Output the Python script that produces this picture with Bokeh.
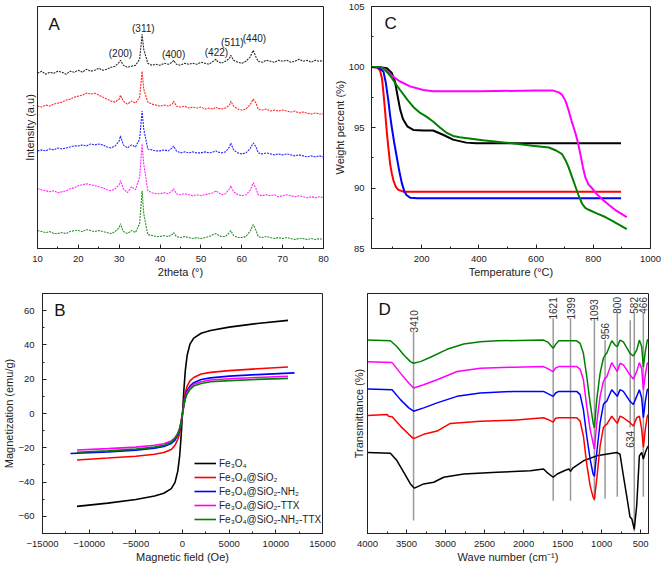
from bokeh.plotting import figure
from bokeh.layouts import column, row
from bokeh.models import (Range1d, SingleIntervalTicker, FixedTicker, Label,
                          Legend, LegendItem)
from bokeh.embed import file_html
from bokeh.resources import INLINE
from bokeh.core.properties import value

FONT = "Liberation Sans"
INK = "#222222"
COLORS = ["#000000", "#ff0000", "#0000ff", "#ff00ff", "#008000"]
SAMPLES = ["Fe\u2083O\u2084", "Fe\u2083O\u2084@SiO\u2082", "Fe\u2083O\u2084@SiO\u2082-NH\u2082",
           "Fe\u2083O\u2084@SiO\u2082-TTX", "Fe\u2083O\u2084@SiO\u2082-NH\u2082-TTX"]

# ---------------- Panel A: XRD (stacked, a.u.) ----------------
xrd_2theta = [10, 11, 12, 13, 14, 15, 16, 17, 18, 19, 20, 21, 22, 23, 24, 25, 26, 27, 28, 29,
              30, 30.3, 31, 32, 33, 34, 35, 35.6, 36, 37, 38, 39, 40, 41, 42, 43, 43.3,
              44, 45, 46, 47, 48, 49, 50, 51, 52, 53, 53.7, 54, 55, 56, 57, 57.3,
              58, 59, 60, 61, 62, 62.8, 63.5, 64, 65, 66, 67, 68, 69, 70, 71, 72, 73,
              74, 75, 76, 77, 78, 79, 80]
xrd_black = [176, 178, 175, 177, 176, 178, 177, 175, 178, 177, 179, 177, 180, 178, 179, 181, 179, 180, 182, 183,
             187, 189, 184, 182, 183, 184, 190, 215, 200, 186, 184, 185, 184, 186, 185, 187, 189,
             185, 184, 186, 185, 186, 185, 187, 186, 185, 188, 190, 188, 186, 188, 191, 194,
             189, 187, 186, 188, 192, 199, 192, 188, 187, 189, 188, 187, 189, 188, 189, 187, 188,
             190, 188, 189, 187, 189, 188, 189]
xrd_red = [143, 142, 144, 143, 145, 146, 147, 149, 150, 152, 153, 154, 156, 155, 156, 154, 152, 150, 148, 147,
           150, 154, 148, 145, 148, 146, 152, 178, 160, 147, 145, 144, 143, 144, 143, 145, 148,
           143, 142, 143, 141, 142, 141, 142, 140, 141, 140, 142, 141, 140, 141, 144, 148,
           143, 140, 139, 140, 144, 150, 146, 140, 139, 140, 138, 139, 138, 139, 138, 137, 138,
           136, 137, 136, 135, 136, 135, 135]
xrd_blue = [98, 99, 98, 100, 99, 101, 100, 101, 102, 103, 103, 104, 103, 105, 104, 105, 104, 102, 101, 103,
            108, 113, 104, 101, 104, 102, 110, 138, 120, 100, 99, 98, 98, 99, 98, 101, 103,
            98, 96, 97, 96, 97, 96, 96, 97, 96, 97, 98, 97, 96, 97, 102, 106,
            99, 96, 95, 96, 100, 106, 102, 96, 95, 96, 95, 94, 95, 94, 95, 94, 93,
            94, 93, 92, 93, 92, 93, 92]
xrd_magenta = [60, 59, 58, 57, 58, 56, 57, 58, 60, 61, 63, 64, 65, 64, 63, 62, 61, 59, 58, 60,
               64, 68, 60, 56, 62, 59, 72, 105, 85, 58, 56, 55, 55, 56, 55, 58, 60,
               55, 54, 55, 54, 53, 54, 53, 54, 55, 56, 58, 57, 54, 55, 60, 63,
               57, 54, 53, 54, 58, 66, 60, 54, 53, 54, 53, 54, 52, 53, 54, 53, 52,
               53, 52, 51, 52, 51, 52, 51]
xrd_green = [18, 17, 16, 17, 15, 15, 16, 15, 17, 18, 18, 17, 19, 18, 17, 18, 17, 16, 15, 17,
             21, 25, 17, 15, 18, 16, 25, 58, 35, 14, 13, 12, 12, 13, 12, 14, 16,
             12, 11, 12, 11, 10, 11, 10, 11, 12, 14, 15, 14, 12, 12, 16, 18,
             13, 11, 11, 12, 17, 24, 18, 12, 11, 12, 11, 10, 11, 10, 11, 10, 9,
             10, 10, 9, 10, 9, 10, 9]
xrd_series = [xrd_black, xrd_red, xrd_blue, xrd_magenta, xrd_green]
hkl_labels = ["(200)", "(311)", "(400)", "(422)", "(511)", "(440)"]
hkl_x = [30.3, 35.9, 43.3, 53.8, 57.7, 63.1]
hkl_y = [196, 221, 195, 197, 207, 211]

# ---------------- Panel C: TGA ----------------
tga_T = [
    [25, 50, 79, 96, 107, 117, 125, 135, 150, 171, 206, 240, 275, 310, 356, 391, 897],
    [25, 45, 55, 62, 67, 73, 79, 85, 90, 96, 102, 110, 119, 136, 897],
    [25, 50, 67, 75, 84, 90, 96, 104, 113, 122, 131, 140, 148, 160, 185, 897],
    [25, 55, 70, 84, 100, 125, 160, 206, 240, 400, 600, 660, 680, 691, 703, 714, 726, 738,
     746, 755, 764, 772, 783, 795, 812, 830, 855, 876, 917],
    [25, 55, 70, 90, 107, 125, 150, 171, 195, 217, 240, 264, 285, 310, 333, 414, 495, 587,
     645, 670, 691, 703, 714, 726, 738, 750, 761, 772, 784, 812, 842, 865, 888, 917],
]
tga_W = [
    [100, 100, 99.9, 99.5, 98.8, 97.5, 96.5, 95.7, 95.1, 94.8, 94.75, 94.75, 94.4, 94.0, 93.75, 93.7, 93.7],
    [100, 99.95, 99.7, 99.0, 97.8, 96.2, 94.5, 93.1, 92.0, 91.2, 90.6, 90.1, 89.85, 89.7, 89.7],
    [100, 99.95, 99.6, 98.7, 97.2, 96.0, 95.0, 93.8, 92.6, 91.4, 90.4, 89.7, 89.4, 89.2, 89.15, 89.15],
    [100, 100, 99.85, 99.6, 99.2, 98.8, 98.4, 98.1, 98.0, 98.0, 98.05, 98.05, 97.9, 97.7, 97.2, 96.4,
     95.4, 94.5, 93.8, 92.8, 91.7, 90.9, 90.3, 90.0, 89.5, 89.1, 88.6, 88.2, 87.6],
    [100, 100, 99.8, 99.3, 98.7, 98.1, 97.3, 96.7, 96.2, 95.9, 95.5, 95.0, 94.6, 94.3, 94.2, 93.95,
     93.75, 93.5, 93.35, 93.1, 92.8, 92.3, 91.7, 90.9, 90.1, 89.3, 88.7, 88.35, 88.2, 87.9, 87.6,
     87.3, 87.0, 86.6],
]

# ---------------- Panel B: VSM ----------------
vsm_H = [-11300, -8000, -5000, -3000, -2000, -1200, -800, -500, -300, -150, 0,
         150, 300, 500, 800, 1200, 2000, 3000, 5000, 8000, 11300]
vsm_H_blue = [-12000, -8000, -5000, -3000, -2000, -1200, -800, -500, -300, -150, 0,
              150, 300, 500, 800, 1200, 2000, 3000, 5000, 8000, 12000]
vsm_black = [-54.2, -52.3, -50.2, -48.1, -46.5, -43.8, -40.2, -33.5, -24.5, -13.5, 0,
             13.8, 25, 34, 40.5, 44, 46.8, 48.4, 50.4, 52.5, 54.3]
vsm_red = [-27.1, -26.0, -24.9, -23.8, -22.8, -21, -18.5, -15, -11.5, -6.5, 0,
           7, 12, 16, 19, 21, 23, 24, 25, 26.1, 27.1]
vsm_blue = [-23.3, -22.4, -21.4, -20.2, -19.2, -17.5, -15.5, -12.5, -9.5, -5.3, 0,
            5.5, 10, 13.5, 16, 18, 19.8, 20.8, 21.8, 22.7, 23.7]
vsm_magenta = [-21.3, -20.5, -19.6, -18.5, -17.6, -16, -14, -11.5, -8.5, -4.8, 0,
               5, 9, 12.5, 15, 17, 18.5, 19.5, 20.3, 21, 21.7]
vsm_green = [-22.6, -21.8, -20.8, -19.6, -18.6, -16.8, -14.5, -11.8, -8.8, -4.8, 0,
             4.5, 8.5, 11.5, 14, 16, 17.5, 18.5, 19.2, 19.9, 20.5]
vsm_x = [vsm_H, vsm_H, vsm_H_blue, vsm_H, vsm_H]
vsm_y = [vsm_black, vsm_red, vsm_blue, vsm_magenta, vsm_green]

# ---------------- Panel D: FTIR (stacked, a.u.) ----------------
ftir_wn = [
    [4000, 3706, 3621, 3535, 3450, 3399, 3280, 3152, 3024, 2768, 2342, 1915, 1745, 1702, 1621, 1570,
     1480, 1420, 1399, 1370, 1234, 1063, 807, 765, 722, 680, 637, 615, 582, 551, 517, 487, 466, 441, 415, 400],
    [4000, 3748, 3730, 3685, 3578, 3471, 3410, 3280, 3109, 2939, 2555, 2129, 1745, 1690, 1621, 1590,
     1550, 1320, 1276, 1234, 1191, 1148, 1110, 1093, 1063, 1020, 978, 956, 935, 871, 800, 765, 722,
     637, 594, 551, 517, 487, 466, 441, 415, 400],
    [4000, 3685, 3578, 3471, 3410, 3280, 3109, 2853, 2555, 2129, 1745, 1690, 1621, 1590, 1550, 1320,
     1276, 1234, 1191, 1148, 1110, 1093, 1063, 1020, 978, 956, 935, 871, 800, 765, 722, 637, 594,
     551, 517, 487, 466, 441, 415, 400],
    [4000, 3685, 3578, 3471, 3410, 3280, 3109, 2853, 2555, 2129, 1745, 1690, 1621, 1590, 1550, 1320,
     1276, 1234, 1191, 1148, 1093, 1063, 1020, 978, 956, 935, 871, 800, 765, 722, 637, 594, 551,
     517, 487, 466, 441, 415, 400],
    [4000, 3706, 3621, 3535, 3450, 3410, 3322, 3194, 2981, 2768, 2555, 2342, 1745, 1690, 1621, 1590,
     1550, 1320, 1276, 1234, 1191, 1148, 1110, 1093, 1063, 1020, 978, 956, 935, 871, 829, 800, 765,
     722, 637, 594, 551, 517, 487, 466, 441, 415, 400],
]
ftir_T = [
    [81.7, 81, 73.3, 61.7, 50, 45.7, 50, 51.7, 56.7, 60, 61.7, 63.3, 65, 61.7, 56.7, 60,
     63.3, 65, 62.7, 66, 73.3, 78.3, 81.7, 80, 58.3, 38.3, 16.7, 15, 4.3, 28.3, 78.3, 81.7, 75, 81.7, 86.7, 88.3],
    [119, 120, 118.3, 117.7, 108.3, 100, 95.7, 100, 103.3, 111, 113.3, 114.3, 116.7, 115, 112.3, 116.3,
     116.7, 116.7, 113.3, 98.3, 70, 48.3, 36.7, 34.3, 55, 88.3, 106.7, 109, 110, 118.3, 111, 118.3, 116.7,
     111.7, 108.3, 116.7, 118.3, 105, 86.7, 105, 118.3, 120],
    [145.7, 145, 135, 126.7, 123.3, 126.7, 131.7, 138.3, 141.7, 143.3, 143.3, 141, 138.3, 141.7, 143.3, 143.3,
     140, 125, 98.3, 75, 60, 57.7, 81.7, 111.7, 130, 132.3, 133.3, 145, 138.3, 145, 143.3, 133.3, 130,
     138.3, 145, 136.7, 116.7, 133.3, 145, 145.7],
    [173.3, 172.3, 161.7, 151.7, 146.7, 150, 155, 163.3, 166.7, 167.7, 168.3, 166.3, 163.3, 167, 168.3, 168.3,
     165.7, 155, 128.3, 105, 85, 111.7, 138.3, 153.3, 156.7, 157.7, 172.3, 163.3, 171.7, 170, 160, 155.7, 163.3,
     172.3, 166.7, 145, 160, 171.7, 172.3],
    [195, 194.3, 188.3, 180, 173.3, 171.7, 173.3, 177.7, 185.7, 191, 193.3, 194.3, 195, 193, 186.7, 190.7,
     194.3, 194.3, 191.7, 181.7, 158.3, 131.7, 111.7, 106.7, 135, 161.7, 176.7, 180, 181.7, 194.3, 190, 188.3, 195,
     193.3, 181.7, 179, 185, 195, 188.3, 167.7, 183.3, 195, 195.7],
]
band_labels = ["3410", "1621", "1399", "1093", "956", "800", "634", "582", "466"]
band_wn = [3410, 1621, 1399, 1093, 956, 800, 634, 582, 466]
band_top = [204, 217, 217, 217, 195, 222, 215, 222, 222]
band_bottom = [13, 33, 33, 33, 35, 37, 107, 2, 37]
band_label_y = [214, 227, 227, 225, 204, 230, 95, 230, 230]


def style(p, xlabel, ylabel, x_std=7, x_lab_std=1, y_std=7, y_lab_std=0):
    p.outline_line_color = INK
    p.outline_line_width = 1
    p.grid.grid_line_color = None
    p.background_fill_color = "white"
    p.border_fill_color = "white"
    for ax in (p.xaxis[0], p.yaxis[0]):
        ax.axis_line_color = INK
        ax.major_tick_in = 4
        ax.major_tick_out = 0
        ax.minor_tick_in = 2
        ax.minor_tick_out = 0
        ax.major_tick_line_color = INK
        ax.minor_tick_line_color = INK
        ax.major_label_text_font = FONT
        ax.major_label_text_font_size = "9.5px"
        ax.major_label_text_color = INK
        ax.axis_label_text_font = FONT
        ax.axis_label_text_font_size = "11px"
        ax.axis_label_text_font_style = "normal"
        ax.axis_label_text_color = INK
    p.xaxis[0].axis_label = xlabel
    p.yaxis[0].axis_label = ylabel
    p.xaxis[0].major_label_standoff = x_std
    p.xaxis[0].axis_label_standoff = x_lab_std
    p.yaxis[0].major_label_standoff = y_std
    p.yaxis[0].axis_label_standoff = y_lab_std


def letter(p, txt, x, y):
    p.add_layout(Label(x=x, y=y, text=txt, text_font=FONT, text_font_size="17px",
                       text_color="#111", text_baseline="middle", text_align="left"))


TOP_H = 286
BOT_H = 573 - TOP_H

# ---- A ----
pA = figure(width=330, height=TOP_H, x_range=Range1d(10, 80), y_range=Range1d(0, 243),
            output_backend="svg", toolbar_location=None,
            min_border_left=37, min_border_right=7, min_border_top=5,
            min_border_bottom=TOP_H - 248)
for ys, c in zip(xrd_series, COLORS):
    pA.line(xrd_2theta, ys, line_color=c, line_width=1.1, line_alpha=0.85, line_dash="2 1")
pA.text(x=hkl_x, y=hkl_y, text=hkl_labels, text_font=value(FONT), text_font_size="10px",
        text_color=INK, text_align="center", text_baseline="middle")
style(pA, "2theta (\u00b0)", "Intensity (a.u)", y_std=0, y_lab_std=2)
pA.xaxis[0].ticker = SingleIntervalTicker(interval=10, num_minor_ticks=2)
pA.yaxis[0].ticker = FixedTicker(ticks=[])
letter(pA, "A", 12.7, 225)

# ---- C ----
pC = figure(width=331, height=TOP_H, x_range=Range1d(25, 1000), y_range=Range1d(85, 105),
            output_backend="svg", toolbar_location=None,
            min_border_left=37, min_border_right=11, min_border_top=6,
            min_border_bottom=TOP_H - 248)
for xs, ys, c in zip(tga_T, tga_W, COLORS):
    pC.line(xs, ys, line_color=c, line_width=2)
style(pC, "Temperature (\u00b0C)", "Weight percent (%)")
pC.xaxis[0].ticker = SingleIntervalTicker(interval=200, num_minor_ticks=2)
pC.yaxis[0].ticker = SingleIntervalTicker(interval=5, num_minor_ticks=2)
letter(pC, "C", 70, 103.6)

# ---- B ----
pB = figure(width=340, height=BOT_H, x_range=Range1d(-15000, 15000), y_range=Range1d(-70, 70),
            output_backend="svg", toolbar_location=None,
            min_border_left=36, min_border_right=18, min_border_top=292 - TOP_H,
            min_border_bottom=573 - 533)
items = []
for xs, ys, c, name in zip(vsm_x, vsm_y, COLORS, SAMPLES):
    r = pB.line(xs, ys, line_color=c, line_width=1.6)
    items.append(LegendItem(label=name, renderers=[r]))
leg = Legend(items=items, location=(152, 7), border_line_color=None, background_fill_alpha=0,
             padding=0, margin=0, spacing=0, label_height=14, glyph_height=14, glyph_width=22,
             label_standoff=3, label_text_font=FONT, label_text_font_size="10px",
             label_text_color=INK)
pB.add_layout(leg)
style(pB, "Magnetic field (Oe)", "Magnetization (emu/g)", y_std=8)
pB.xaxis[0].ticker = SingleIntervalTicker(interval=5000, num_minor_ticks=2)
pB.yaxis[0].ticker = SingleIntervalTicker(interval=20, num_minor_ticks=2)
letter(pB, "B", -13740, 60.1)

# ---- D ----
pD = figure(width=321, height=BOT_H, x_range=Range1d(4000, 400), y_range=Range1d(0, 242),
            output_backend="svg", toolbar_location=None,
            min_border_left=27, min_border_right=13, min_border_top=293 - TOP_H,
            min_border_bottom=573 - 535)
pD.segment(x0=band_wn, y0=band_bottom, x1=band_wn, y1=band_top, line_color="#9a9a9a", line_width=1.5)
for xs, ys, c in zip(ftir_wn, ftir_T, COLORS):
    pD.line(xs, ys, line_color=c, line_width=1.5)
pD.text(x=band_wn, y=band_label_y, text=band_labels, angle=1.5708, text_font=value(FONT),
        text_font_size="10px", text_color="#333", text_align="center", text_baseline="middle")
style(pD, "Wave number (cm\u207b\u00b9)", "Transmittance (%)", y_std=0, y_lab_std=3)
pD.xaxis[0].ticker = SingleIntervalTicker(interval=500, num_minor_ticks=2)
pD.yaxis[0].ticker = FixedTicker(ticks=[])
letter(pD, "D", 3859, 226)

layout = column(row(pA, pC, spacing=0), row(pB, pD, spacing=0), spacing=0)

open("out.html", "w").write(file_html(layout, INLINE))
